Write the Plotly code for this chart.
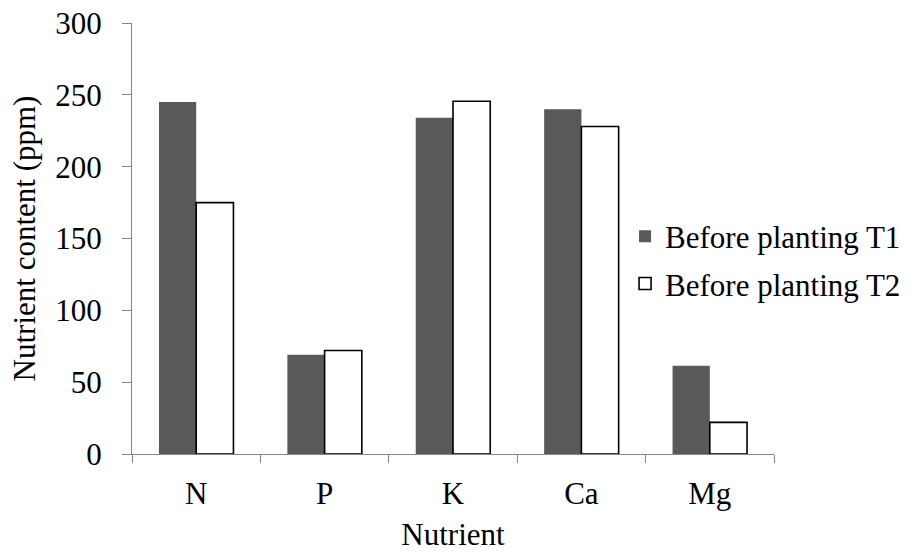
import plotly.graph_objects as go

# Soil nutrient content before planting, two treatments
nutrients = ["N", "P", "K", "Ca", "Mg"]
t1_values = [245, 69, 234, 240, 61.5]
t2_values = [175, 72, 245.5, 228, 22]
series_names = ["Before planting T1", "Before planting T2"]
y_ticks = [0, 50, 100, 150, 200, 250, 300]

FONT = "Liberation Serif, Times New Roman, serif"
AXIS_GREY = "#868686"
FS = 31

fig = go.Figure()
fig.add_trace(go.Bar(
    x=nutrients, y=t1_values, name=series_names[0],
    marker=dict(color="#595959", line=dict(color="#595959", width=0)),
    legendgroup="t1",
))
fig.add_trace(go.Bar(
    x=nutrients, y=t2_values, name=series_names[1],
    marker=dict(color="#ffffff", line=dict(color="#000000", width=1.6)),
    legendgroup="t2",
))

fig.update_layout(
    width=914, height=556,
    margin=dict(l=132, r=140, t=23, b=102, autoexpand=False),
    paper_bgcolor="white", plot_bgcolor="white",
    barmode="group", bargap=0.42, bargroupgap=0,
    font=dict(family=FONT, size=FS, color="#000000"),
    showlegend=True,
    legend=dict(
        x=0.768, y=0.45, xanchor="left", yanchor="middle",
        xref="paper", yref="paper",
        font=dict(family=FONT, size=FS, color="#000000"),
        tracegroupgap=4, itemwidth=30,
        bgcolor="rgba(0,0,0,0)",
    ),
    xaxis=dict(
        title=dict(text="Nutrient", font=dict(size=FS), standoff=12),
        automargin=False,
        showline=True, linecolor=AXIS_GREY, linewidth=1.3,
        ticks="outside", ticklen=8, tickcolor=AXIS_GREY, tickwidth=1.3,
        tickson="boundaries", showgrid=False, zeroline=False,
        tickfont=dict(size=FS), ticklabelstandoff=12,
    ),
    yaxis=dict(
        title=dict(text="Nutrient content (ppm)", font=dict(size=FS), standoff=10),
        automargin=False,
        range=[0, 300], tickvals=y_ticks,
        showline=True, linecolor=AXIS_GREY, linewidth=1.3,
        ticks="outside", ticklen=9, tickcolor=AXIS_GREY, tickwidth=1.3,
        showgrid=False, zeroline=False,
        tickfont=dict(size=FS), ticklabelstandoff=14,
    ),
)

fig.write_html("out.html")
